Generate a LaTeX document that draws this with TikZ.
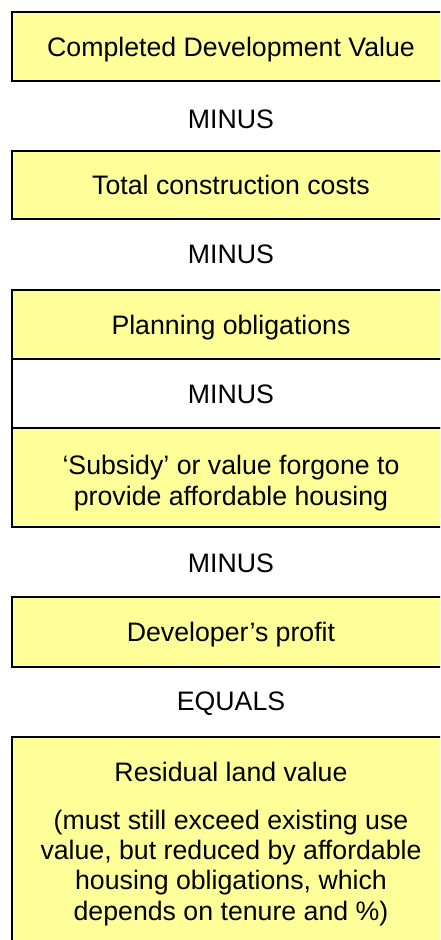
\documentclass[tikz,border=0pt]{standalone}
\usepackage{fontspec}
\setmainfont{Liberation Sans}
\definecolor{boxfill}{HTML}{FFFF99}
\begin{document}
\begin{tikzpicture}[x=1pt,y=-1pt,
  panel/.style={draw=black, line width=2pt, fill=boxfill, rectangle,
    inner sep=0pt, minimum width=438pt},
  txt/.style={anchor=base, inner sep=0pt, align=center,
    font=\fontsize{26.7}{30.3}\selectfont}]
\useasboundingbox (0,0) rectangle (440,940);
\clip (0,0) rectangle (440,940);

% panels of the residual valuation
\node[panel, minimum height=69pt] (cdv) at (231,46.5) {};
\node[panel, minimum height=68pt] (tcc) at (231,185) {};
\node[panel, minimum height=69pt] (plan) at (231,324.5) {};
\node[panel, minimum height=69pt, fill=white] (midminus) at (231,393.5) {};
\node[panel, minimum height=99pt] (subsidy) at (231,477.5) {};
\node[panel, minimum height=70pt] (profit) at (231,632) {};
\node[panel, minimum height=238pt] (residual) at (231,856) {};

% texts (multi-line nodes sit on the baseline of their last line)
\node[txt] (tcdv) at (231,56) {Completed Development Value};
\node[txt] (op1) at (231,128) {MINUS};
\node[txt] (ttcc) at (231,194.6) {Total construction costs};
\node[txt] (op2) at (231,263.6) {MINUS};
\node[txt] (tplan) at (231,334) {Planning obligations};
\node[txt] (op3) at (231,403) {MINUS};
\node[txt] (tsubsidy) at (231,505) {‘Subsidy’ or value forgone to\\provide affordable housing};
\node[txt] (op4) at (231,572.6) {MINUS};
\node[txt] (tprofit) at (231,641.6) {Developer’s profit};
\node[txt] (op5) at (231,710.6) {EQUALS};
\node[txt] (tresidual) at (231,781.7) {Residual land value};
\node[txt] (tnote) at (231,920) {(must still exceed existing use\\value, but reduced by affordable\\housing obligations, which\\depends on tenure and \%)};
\end{tikzpicture}
\end{document}
